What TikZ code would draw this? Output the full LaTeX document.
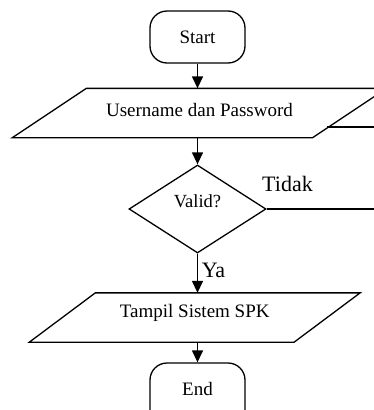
\documentclass[tikz,border=0pt]{standalone}
\usepackage{fontspec}
\setmainfont{Liberation Serif}
\usetikzlibrary{arrows.meta,shapes.geometric,calc}
\begin{document}
\begin{tikzpicture}[x=1pt,y=-1pt,
  line width=1.3pt,
  body/.style={font=\fontsize{19}{22}\selectfont},
  term/.style={body,draw,rounded corners=17pt,minimum width=95pt,minimum height=52pt,inner sep=0pt},
  io/.style={body,minimum height=48pt,inner sep=0pt,text height=12.8pt},
  lbl/.style={font=\fontsize{22}{26}\selectfont,inner sep=0pt},
  flow/.style={-{Triangle[length=12pt,width=11pt]}}
]
\useasboundingbox (0,0) rectangle (374,410);
\clip (0,0) rectangle (374,410);

% terminals, input/output boxes and the decision
\node[term] (start) at (197.5,37) {Start};
\node[io, minimum width=299pt, text depth=6pt] (user) at (199.5,113) {Username dan Password};
\draw ($(user.north west)+(37,0)$) -- ($(user.north east)+(37,0)$)
   -- ($(user.south east)+(-37,0)$) -- ($(user.south west)+(-37,0)$) -- cycle;
\node[draw, diamond, font=\fontsize{18.5}{22}\selectfont, minimum width=137pt, minimum height=88pt,
      inner sep=0pt, text height=12.6pt, text depth=15pt] (valid) at (197.5,209) {Valid?};
\node[io, minimum width=263.5pt, text depth=12pt] (spk) at (194.75,317.5) {Tampil Sistem SPK};
\draw ($(spk.north west)+(33,0)$) -- ($(spk.north east)+(33,0)$)
   -- ($(spk.south east)+(-33,0)$) -- ($(spk.south west)+(-33,0)$) -- cycle;
\node[term, minimum height=64pt, text height=12.3pt, text depth=12pt] (end) at (197.5,395) {End};

% point on the right slanted edge of the input box where the loop re-enters
\coordinate (back) at (327.4,127);

% connectors
\draw[flow] (start) -- (start |- user.north);
\draw[flow] (user.south -| valid) -- (valid.north);
\draw[flow] (valid.south) -- (valid.south |- spk.north);
\draw[flow] (spk.south -| end) -- (end.north);
\draw (valid.east) -- (410,209) |- (back);

% branch labels
\node[lbl] (tidak) at (287.5,183.5) {Tidak};
\node[lbl] (ya) at (213.5,270) {Ya};
\end{tikzpicture}
\end{document}
